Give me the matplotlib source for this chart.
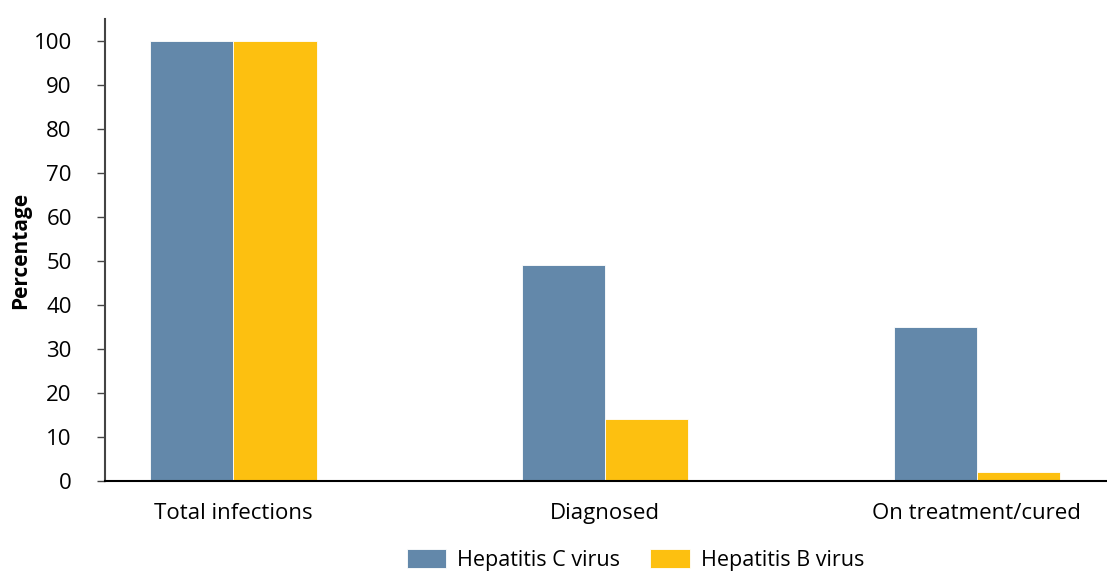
import matplotlib
matplotlib.use("Agg")
import matplotlib.pyplot as plt
import numpy as np

# data
categories = ["Total infections", "Diagnosed", "On treatment/cured"]
series_names = ["Hepatitis C virus", "Hepatitis B virus"]
hcv = [100, 49, 35]
hbv = [100, 14, 2]
colors = ["#6388AA", "#FDC010"]

plt.rcParams["font.family"] = ["Open Sans", "DejaVu Sans"]

fig = plt.figure(figsize=(11.07, 5.72), dpi=100)
ax = fig.add_axes([0.095, 0.159, 0.905, 0.808])

x = np.arange(len(categories))
w = 0.224
ax.bar(x - w / 2, hcv, w, color=colors[0], edgecolor="white", linewidth=0.6, label=series_names[0])
ax.bar(x + w / 2, hbv, w, color=colors[1], edgecolor="white", linewidth=0.6, label=series_names[1])

ax.set_xlim(-0.345, 2.35)
ax.set_ylim(0, 105)
ax.set_yticks(range(0, 101, 10))
ax.set_xticks(x)
ax.set_xticklabels(categories)
ax.tick_params(axis="y", labelsize=16, length=6, width=1, color="#444444", pad=18)
ax.tick_params(axis="x", labelsize=16, length=0, pad=16)

for s in ["top", "right"]:
    ax.spines[s].set_visible(False)
ax.spines["left"].set_color("#444444")
ax.spines["left"].set_linewidth(1.5)
ax.spines["bottom"].set_color("black")
ax.spines["bottom"].set_linewidth(1.5)

ax.set_ylabel("Percentage", fontsize=15, fontweight="bold", labelpad=2)

leg = fig.legend(loc="center", bbox_to_anchor=(0.574, 0.021), ncol=2, frameon=False,
                 fontsize=15.5, handlelength=1.85, handleheight=1.0, handletextpad=0.5,
                 columnspacing=1.4, borderpad=0)

fig.savefig("out.png", dpi=100)
